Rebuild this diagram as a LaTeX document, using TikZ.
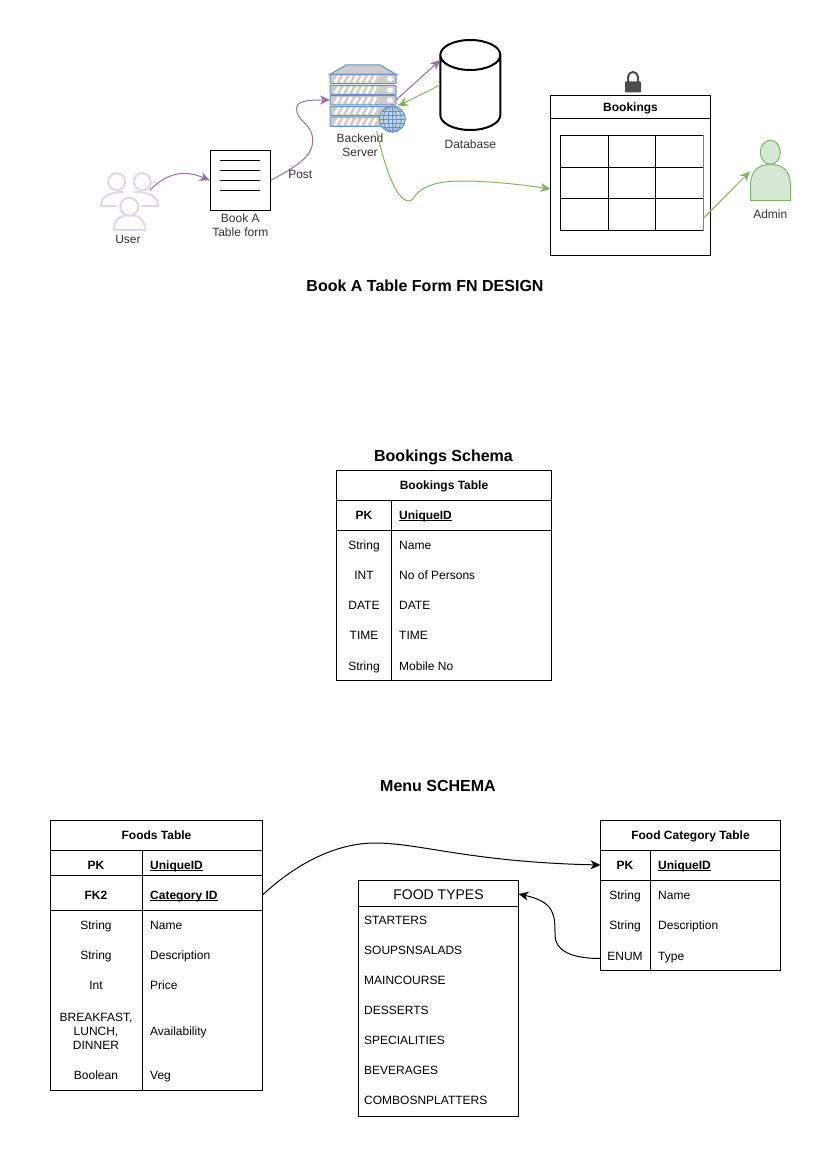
\documentclass[tikz,border=0pt]{standalone}
\usepackage{fontspec}
\setmainfont{Liberation Sans}
\usetikzlibrary{arrows.meta,shapes.geometric}
\definecolor{flowpurple}{HTML}{9673A6}
\definecolor{flowgreen}{HTML}{82B366}
\definecolor{palegreen}{HTML}{D5E8D4}
\definecolor{palepurple}{HTML}{E1D5E7}
\definecolor{serverblue}{HTML}{6C8EBF}
\newcommand{\keyname}[1]{\underline{\smash{#1}}}
\tikzset{
	lbl/.style={inner sep=0pt, yshift=-1pt, font=\fontsize{12}{14}\selectfont, text height=9pt, text depth=2.5pt},
	lblgrey/.style={lbl, text=black!80},
	lbltwo/.style={inner sep=0pt, font=\fontsize{12}{14.3}\selectfont, text=black!80, align=center},
	lblleft/.style={lbl, anchor=west},
	lblbold/.style={lbl, font=\fontsize{12}{14}\selectfont\bfseries},
	heading/.style={inner sep=0pt, yshift=-2pt, font=\fontsize{16}{18}\selectfont\bfseries, text height=11.5pt, text depth=3.3pt},
	frame/.style={draw, line width=1pt, inner sep=0pt},
	flow/.style={line width=1pt, -{Stealth[length=10pt,width=9pt,inset=3pt]}},
	person/.style={draw=palepurple, line width=2pt, fill=white},
}
\begin{document}
\begin{tikzpicture}[x=1pt,y=-1pt]
	\useasboundingbox (0,0) rectangle (827,1169);

	% user icon
	\draw[person] (116.5,206) -- (101,206) .. controls (101,197) and (108,192) .. (124,192);
	\draw[person] (141,206) -- (158,206) .. controls (158,197) and (151,192) .. (134,192);
	\node[person, circle, minimum size=17pt, inner sep=0pt] (headleft) at (116.7,181.7) {};
	\node[person, circle, minimum size=17pt, inner sep=0pt] (headright) at (142.3,181.7) {};
	\draw[person] (114,230) .. controls (114,220) and (120,215) .. (129.5,215) .. controls (139,215) and (145,220) .. (145,230) -- cycle;
	\node[person, circle, minimum size=18pt, inner sep=0pt] (headfront) at (129.3,206.7) {};
	\node[lblgrey] (userlbl) at (128,239.5) {User};
	\coordinate (userout) at (150,190);

	% form
	\node[frame, minimum size=60pt] (formbox) at (240.3,180.3) {};
	\foreach \y in {160.3,170.3,180.3,190.3}
		\draw[line width=1pt] (220.3,\y) -- (260.3,\y);
	\node[lbltwo] (formlbl) at (240.3,225.5) {Book A\\Table form};

	% server
	\node[minimum width=66pt, minimum height=61pt, inner sep=0pt] (server) at (363,95.5) {};
	\coordinate (serverin) at (330,100);
	\coordinate (serverout) at (396,100);
	\coordinate (serverback) at (398,106);
	\coordinate (serverdown) at (376.7,131);
	\draw[draw=serverblue, fill=black!20, line width=1pt] (330,74.3) -- (346,65) -- (380,65) -- (396,74.3) -- cycle;
	\foreach \y in {74.3,85.3,95.7,106.3,117} {
		\draw[draw=serverblue, fill=black!20, line width=1pt, rounded corners=1pt] (330,\y) rectangle (396,\y+9.3);
		\foreach \s in {0,...,6}
			\draw[white, line width=2.6pt] (335+\s*6.2,\y+8) -- (339+\s*6.2,\y+1.5);
		\fill[white] (390,\y+4.6) ellipse (3 and 2.6);
	}
	\node[circle, draw=serverblue, fill=serverblue!40, line width=1pt, minimum size=26pt, inner sep=0pt] (globe) at (392.3,119) {};
	\foreach \r in {4,9}
		\draw[serverblue, line width=.8pt] (globe.center) ellipse (\r pt and 13pt);
	\draw[serverblue, line width=.8pt] (392.3,106) -- (392.3,132);
	\foreach \d/\w in {-8/10,-4/12.4,0/13,4/12.4,8/10}
		\draw[serverblue, line width=.8pt] (392.3-\w,119+\d) -- (392.3+\w,119+\d);
	\node[lbltwo] (serverlbl) at (360,145) {Backend\\Server};

	% database
	\node[minimum width=60pt, minimum height=90pt, inner sep=0pt] (dbase) at (470.3,85) {};
	\coordinate (dbasein) at (440.3,60);
	\draw[line width=2pt] (440.3,55) arc[start angle=180, end angle=0, x radius=30, y radius=15]
		-- (500.3,115) arc[start angle=0, end angle=180, x radius=30, y radius=15] -- cycle;
	\draw[line width=2pt] (440.3,55) arc[start angle=180, end angle=360, x radius=30, y radius=15];
	\node[lblgrey] (dbaselbl) at (470.3,144.5) {Database};

	% lock
	\draw[black!70, line width=2pt] (628,83) -- (628,77) arc[start angle=180, end angle=360, radius=5] -- (638,83);
	\fill[black!70, rounded corners=.8pt] (625,81.5) rectangle (641,92.3);

	% bookings panel
	\node[frame, minimum width=160pt, minimum height=160pt] (panel) at (630.5,175.5) {};
	\draw[line width=1pt] (550.5,118.5) -- (710.5,118.5);
	\node[lblbold] (paneltitle) at (630.5,107.5) {Bookings};
	\draw[line width=1pt] (560.5,135.5) rectangle (703.5,230.5);
	\foreach \x in {608.5,655.5}
		\draw[line width=1pt] (\x,135.5) -- (\x,230.5);
	\foreach \y in {167.5,198.5}
		\draw[line width=1pt] (560.5,\y) -- (703.5,\y);
	\draw[black!50, line width=1.5pt] (703.5,135.5) -- (703.5,230.5);
	\coordinate (panelin) at (550.5,189);
	\coordinate (gridout) at (703.3,218.3);

	% admin
	\draw[draw=flowgreen, fill=palegreen, line width=1pt] (750.5,200.7) -- (750.5,186) .. controls (750.5,171) and (758,164.5) .. (770.5,164.5) .. controls (783,164.5) and (790.5,171) .. (790.5,186) -- (790.5,200.7) -- cycle;
	\node[ellipse, draw=flowgreen, fill=palegreen, line width=1pt, minimum width=20pt, minimum height=24pt, inner sep=0pt] (adminhead) at (770.3,152.3) {};
	\node[lblgrey] (adminlbl) at (770.3,214.5) {Admin};
	\coordinate (adminin) at (750,171.5);

	% connectors of the top picture
	\draw[flow, flowpurple] (userout) .. controls (168,172) and (185,170) .. (formbox.west);
	\draw[flow, flowpurple] (formbox.east) .. controls (300,165) and (313,155) .. (312.7,140) .. controls (312,122) and (296,122) .. (296.5,108) .. controls (297,100) and (312,100) .. (serverin);
	\draw[flow, flowpurple] (serverout) -- (dbasein);
	\draw[flow, flowgreen] (dbase.west) -- (serverback);
	\draw[flow, flowgreen] (serverdown) .. controls (383,160) and (395,201) .. (409,201) .. controls (417,201) and (412,181) .. (463,181) .. controls (490,181) and (525,185) .. (panelin);
	\draw[flow, flowgreen] (gridout) -- (adminin);
	\node[lblgrey] (postlbl) at (300.3,174.5) {Post};

	\node[heading] (flowtitle) at (425,285) {Book A Table Form FN DESIGN};
	\node[heading] (bookingstitle) at (443.5,455) {Bookings Schema};
	\node[heading] (menutitle) at (438,785) {Menu SCHEMA};

	% bookings table
	\node[frame, minimum width=215pt, minimum height=210pt] (bookingstable) at (444,575.5) {};
	\draw[line width=1pt] (336.5,500.5) -- (551.5,500.5);
	\draw[line width=1pt] (336.5,530.5) -- (551.5,530.5);
	\draw[line width=1pt] (391.5,500.5) -- (391.5,680.5);
	\node[lblbold] (bookingshead) at (444,485) {Bookings Table};
	\node[lblbold] (bookingspk) at (364,515) {PK};
	\node[lblbold, anchor=west] (bookingsid) at (399,515) {\keyname{UniqueID}};
	\node[lbl] (bt1) at (364,545) {String};
	\node[lblleft] (bn1) at (399,545) {Name};
	\node[lbl] (bt2) at (364,575) {INT};
	\node[lblleft] (bn2) at (399,575) {No of Persons};
	\node[lbl] (bt3) at (364,605) {DATE};
	\node[lblleft] (bn3) at (399,605) {DATE};
	\node[lbl] (bt4) at (364,635.5) {TIME};
	\node[lblleft] (bn4) at (399,635.5) {TIME};
	\node[lbl] (bt5) at (364,666) {String};
	\node[lblleft] (bn5) at (399,666) {Mobile No};

	% foods table
	\node[frame, minimum width=212pt, minimum height=270pt] (foodstable) at (156.5,955.5) {};
	\foreach \y in {850.5,875.5,910.5}
		\draw[line width=1pt] (50.5,\y) -- (262.5,\y);
	\draw[line width=1pt] (142.5,850.5) -- (142.5,1090.5);
	\node[lblbold] (foodshead) at (156.5,835) {Foods Table};
	\node[lblbold] (foodspk) at (96,865) {PK};
	\node[lblbold, anchor=west] (foodsid) at (150,865) {\keyname{UniqueID}};
	\node[lblbold] (foodsfk) at (96,895) {FK2};
	\node[lblbold, anchor=west] (foodscat) at (150,895) {\keyname{Category ID}};
	\node[lbl] (ft1) at (96,925) {String};
	\node[lblleft] (fn1) at (150,925) {Name};
	\node[lbl] (ft2) at (96,955) {String};
	\node[lblleft] (fn2) at (150,955) {Description};
	\node[lbl] (ft3) at (96,985.5) {Int};
	\node[lblleft] (fn3) at (150,985.5) {Price};
	\node[inner sep=0pt, align=center, font=\fontsize{12}{14}\selectfont] (ft4) at (96,1031) {BREAKFAST,\\LUNCH,\\DINNER};
	\node[lblleft] (fn4) at (150,1031) {Availability};
	\node[lbl] (ft5) at (96,1075.5) {Boolean};
	\node[lblleft] (fn5) at (150,1075.5) {Veg};
	\coordinate (foodsout) at (262.5,895);

	% food types list
	\node[frame, minimum width=160pt, minimum height=236pt] (typeslist) at (438.5,998.5) {};
	\draw[line width=1pt] (358.5,906.5) -- (518.5,906.5);
	\node[inner sep=0pt, font=\fontsize{14}{16}\selectfont] (typeshead) at (438.5,894.5) {FOOD TYPES};
	\node[lblleft] (ty1) at (364,920) {STARTERS};
	\node[lblleft] (ty2) at (364,950) {SOUPSNSALADS};
	\node[lblleft] (ty3) at (364,980) {MAINCOURSE};
	\node[lblleft] (ty4) at (364,1010) {DESSERTS};
	\node[lblleft] (ty5) at (364,1040) {SPECIALITIES};
	\node[lblleft] (ty6) at (364,1070) {BEVERAGES};
	\node[lblleft] (ty7) at (364,1100) {COMBOSNPLATTERS};
	\coordinate (typesin) at (518.5,894);

	% food category table
	\node[frame, minimum width=180pt, minimum height=150pt] (cattable) at (690.5,895.5) {};
	\draw[line width=1pt] (600.5,850.5) -- (780.5,850.5);
	\draw[line width=1pt] (600.5,880.5) -- (780.5,880.5);
	\draw[line width=1pt] (650.5,850.5) -- (650.5,970.5);
	\node[lblbold] (cathead) at (690.5,835) {Food Category Table};
	\node[lblbold] (catpk) at (625,865) {PK};
	\node[lblbold, anchor=west] (catid) at (658,865) {\keyname{UniqueID}};
	\node[lbl] (ct1) at (625,895) {String};
	\node[lblleft] (cn1) at (658,895) {Name};
	\node[lbl] (ct2) at (625,925) {String};
	\node[lblleft] (cn2) at (658,925) {Description};
	\node[lbl] (ct3) at (625,956) {ENUM};
	\node[lblleft] (cn3) at (658,956) {Type};
	\coordinate (catin) at (600.5,865);
	\coordinate (catout) at (600.5,958.5);

	% connectors of the menu schema
	\draw[flow, black] (foodsout) .. controls (300,860) and (340,843) .. (375,843) .. controls (420,843) and (470,862) .. (catin);
	\draw[flow, black] (catout) .. controls (570,958.5) and (555,950) .. (555,935) .. controls (555,915) and (555,902) .. (typesin);
\end{tikzpicture}
\end{document}
